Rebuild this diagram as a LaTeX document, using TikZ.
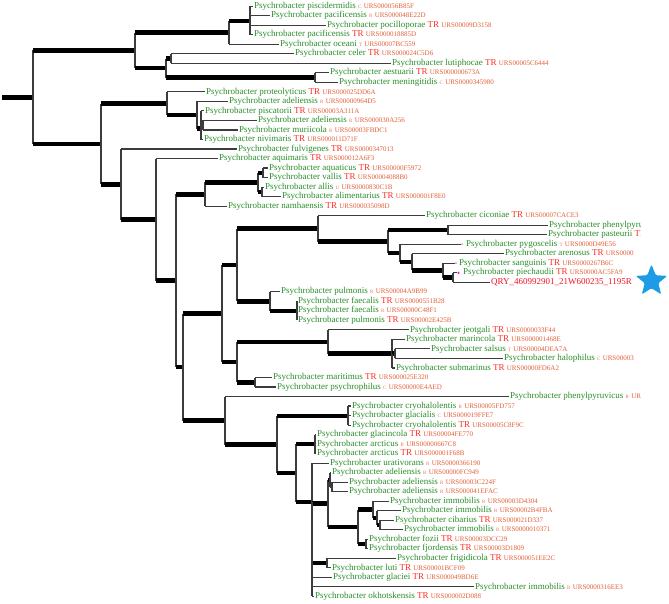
\documentclass[tikz,border=0pt]{standalone}
\usepackage{fontspec}
\setmainfont{Liberation Serif}
\usetikzlibrary{shapes.geometric}
\definecolor{nameg}{RGB}{40,140,40}
\definecolor{trred}{RGB}{255,45,35}
\definecolor{ltpink}{RGB}{240,110,100}
\definecolor{idor}{RGB}{225,95,55}
\definecolor{qryred}{RGB}{240,20,40}
\definecolor{starblue}{RGB}{30,155,230}
\definecolor{lng}{RGB}{60,60,60}
\definecolor{magdot}{RGB}{230,30,200}
\newcommand\spn[1]{\textcolor{nameg}{Psychrobacter #1}}
\newcommand\trg{\textcolor{trred}{TR}}
\newcommand\ltg[1]{\textcolor{ltpink}{\fontsize{5}{6}\selectfont #1}}
\newcommand\rid[1]{\textcolor{idor}{\fontsize{7}{8}\selectfont #1}}
\newcommand\lfn[6]{\node[lbl] (#1) at (#2,#3) {\spn{#4} #5 \rid{#6}};}
\newcommand\brk[3]{\draw[vln] (#2) -- (#2 |- #3); \draw[#1] (#2 |- #3) -- (#3);}
\tikzset{
  lbl/.style={anchor=west, inner sep=1pt, text height=6.3pt, text depth=2pt, font=\fontsize{9}{10}\selectfont},
  thk/.style={line width=4.6pt, black},
  thn/.style={line width=1.1pt, lng},
  vln/.style={line width=1.1pt, lng},
  dotn/.style={circle, inner sep=0pt, minimum size=2.4pt, draw=none}
}
\begin{document}
\begin{tikzpicture}[x=1pt,y=-1pt]
\useasboundingbox (0,0) rectangle (669,603);
\begin{scope}
\clip (0,0) rectangle (640,603);
% leaves
\lfn{l1}{253}{6.2}{piscidermidis}{\ltg{C}}{URS000056B85F}
\lfn{l2}{270}{15.7}{pacificensis}{\ltg{R}}{URS000048E22D}
\lfn{l3}{326}{25.2}{pocilloporae}{\trg}{URS00009D3158}
\lfn{l4}{253}{34.8}{pacificensis}{\trg}{URS000018885D}
\lfn{l5}{279}{44.3}{oceani}{\ltg{T}}{URS00007BC559}
\lfn{l6}{294}{53.8}{celer}{\trg}{URS000024C5D6}
\lfn{l7}{391}{63.3}{lutiphocae}{\trg}{URS00005C6444}
\lfn{l8}{329}{72.8}{aestuarii}{\trg}{URS000000673A}
\lfn{l9}{338}{82.4}{meningitidis}{\ltg{C}}{URS0000345980}
\lfn{l10}{205}{91.9}{proteolyticus}{\trg}{URS000025DD6A}
\lfn{l11}{228}{101.4}{adeliensis}{\ltg{R}}{URS00000964D5}
\lfn{l12}{204}{110.9}{piscatorii}{\trg}{URS00003A311A}
\lfn{l13}{257}{120.4}{adeliensis}{\ltg{R}}{URS000030A256}
\lfn{l14}{238}{130.0}{muriicola}{\ltg{R}}{URS00003FBDC1}
\lfn{l15}{203}{139.5}{nivimaris}{\trg}{URS000011D71F}
\lfn{l16}{237}{149.0}{fulvigenes}{\trg}{URS0000347013}
\lfn{l17}{218}{158.5}{aquimaris}{\trg}{URS000012A6F3}
\lfn{l18}{268}{168.0}{aquaticus}{\trg}{URS00000F5972}
\lfn{l19}{268}{177.6}{vallis}{\trg}{URS00004088B0}
\lfn{l20}{264}{187.1}{allis}{\ltg{U}}{URS0000830C1B}
\lfn{l21}{281}{196.6}{alimentarius}{\trg}{URS000001F8E0}
\lfn{l22}{227}{206.1}{namhaensis}{\trg}{URS000035098D}
\lfn{l23}{425}{215.6}{ciconiae}{\trg}{URS00007CACE3}
\node[lbl] (l24) at (548,225.2) {\spn{phenylpyruvicus}};
\node[lbl] (l25) at (547,234.7) {\spn{pasteurii} \trg};
\node[dotn, fill=ltpink!60] (p26) at (462,244.2) {};
\lfn{l26}{465}{244.2}{pygoscelis}{\ltg{T}}{URS0000D49E56}
\lfn{l27}{504}{253.7}{arenosus}{\trg}{URS0000}
\node[dotn, fill=magdot!50] (p28) at (456,263.2) {};
\lfn{l28}{458}{263.2}{sanguinis}{\trg}{URS0000267B6C}
\node[dotn, fill=magdot] (p29) at (458.5,272.8) {};
\lfn{l29}{462}{272.8}{piechaudii}{\trg}{URS0000AC5FA9}
\node[lbl] (l30) at (490,282.3) {\textcolor{qryred}{QRY\_460992901\_21W600235\_1195R}};
\lfn{l31}{280}{291.8}{pulmonis}{\ltg{R}}{URS00004A9B99}
\lfn{l32}{297}{301.3}{faecalis}{\trg}{URS0000551B28}
\lfn{l33}{297}{310.8}{faecalis}{\ltg{R}}{URS00000C48F1}
\lfn{l34}{297}{320.4}{pulmonis}{\trg}{URS00002E425B}
\lfn{l35}{409}{329.9}{jeotgali}{\trg}{URS0000033F44}
\lfn{l36}{405}{339.4}{marincola}{\trg}{URS000001468E}
\lfn{l37}{430}{348.9}{salsus}{\ltg{T}}{URS00004DEA7A}
\lfn{l38}{503}{358.4}{halophilus}{\ltg{C}}{URS00003}
\lfn{l39}{395}{368.0}{submarinus}{\trg}{URS00000FD6A2}
\lfn{l40}{272}{377.5}{maritimus}{\trg}{URS000025E320}
\lfn{l41}{276}{387.0}{psychrophilus}{\ltg{C}}{URS00000E4AED}
\lfn{l42}{509}{396.5}{phenylpyruvicus}{\ltg{R}}{UR}
\lfn{l43}{351}{406.0}{cryohalolentis}{\ltg{R}}{URS00005FD757}
\lfn{l44}{351}{415.6}{glacialis}{\ltg{C}}{URS000019FFE7}
\lfn{l45}{351}{425.1}{cryohalolentis}{\trg}{URS00005C8F9C}
\lfn{l46}{316}{434.6}{glacincola}{\trg}{URS00004FE770}
\lfn{l47}{316}{444.1}{arcticus}{\ltg{R}}{URS00000667C8}
\lfn{l48}{316}{453.6}{arcticus}{\trg}{URS000001F68B}
\lfn{l49}{329}{463.2}{urativorans}{\ltg{R}}{URS0000366190}
\lfn{l50}{331}{472.7}{adeliensis}{\ltg{R}}{URS00000FC949}
\lfn{l51}{348}{482.2}{adeliensis}{\ltg{R}}{URS00003C224F}
\lfn{l52}{348}{491.7}{adeliensis}{\ltg{R}}{URS000041EFAC}
\lfn{l53}{389}{501.2}{immobilis}{\ltg{R}}{URS00003D4304}
\lfn{l54}{401}{510.8}{immobilis}{\ltg{R}}{URS00002B4FBA}
\lfn{l55}{394}{520.3}{cibarius}{\trg}{URS000021D337}
\lfn{l56}{403}{529.8}{immobilis}{\ltg{R}}{URS0000010371}
\lfn{l57}{368}{539.3}{fozii}{\trg}{URS00003DCC29}
\lfn{l58}{368}{548.8}{fjordensis}{\trg}{URS00003D1809}
\lfn{l59}{396}{558.4}{frigidicola}{\trg}{URS000051EE2C}
\lfn{l60}{331}{567.9}{luti}{\trg}{URS00001BCF09}
\lfn{l61}{332}{577.4}{glaciei}{\trg}{URS000049BD6E}
\lfn{l62}{474}{586.9}{immobilis}{\ltg{R}}{URS0000316EE3}
\lfn{l63}{314}{596.4}{okhotskensis}{\trg}{URS000002D088}
% internal nodes
\coordinate (R0) at (2,97.2);
\coordinate (A) at (33,97.2);
\coordinate (B) at (135,50.4);
\coordinate (C) at (229,32.6);
\coordinate (D) at (250,21);
\coordinate (E) at (166,68.1);
\coordinate (F) at (171,58.6);
\coordinate (G) at (315,77.6);
\coordinate (H) at (101,143.9);
\coordinate (I) at (167,103.5);
\coordinate (J) at (197,115);
\coordinate (K) at (201,128.5);
\coordinate (L) at (203,125.2);
\coordinate (M) at (121,184.3);
\coordinate (N) at (156,219.5);
\coordinate (O) at (176,280.6);
\coordinate (P) at (205,194.2);
\coordinate (Q) at (258,182.3);
\coordinate (R) at (263,172.8);
\coordinate (S) at (262,191.9);
\coordinate (T) at (183,367);
\coordinate (U) at (222,313.5);
\coordinate (V) at (237,265);
\coordinate (W) at (318,228.6);
\coordinate (Y) at (388,241.5);
\coordinate (Z) at (448,230);
\coordinate (AA) at (400,253.1);
\coordinate (AB) at (412,262);
\coordinate (AC) at (443,270.4);
\coordinate (AD) at (453,277.6);
\coordinate (X) at (270,301.3);
\coordinate (AE) at (297,310.8);
\coordinate (AF) at (237,362);
\coordinate (AG) at (328,341.8);
\coordinate (AH) at (392,353.7);
\coordinate (AI) at (395,353.7);
\coordinate (AJ) at (255,382.3);
\coordinate (AK) at (225,420.5);
\coordinate (AL) at (277,444.5);
\coordinate (AM) at (348,416);
\coordinate (AN) at (296,473);
\coordinate (AO) at (315,444.1);
\coordinate (AP) at (312,502);
\coordinate (AQ) at (328,503.3);
\coordinate (AR) at (330,479.8);
\coordinate (AZ) at (332,487);
\coordinate (AS) at (358,526.8);
\coordinate (AT) at (373,509.5);
\coordinate (AU) at (377,517.9);
\coordinate (AV) at (380,525);
\coordinate (AW) at (366,544);
\coordinate (AX) at (327,563.1);
% branches
\draw[thk] (R0) -- (A);
\brk{thk}{A}{B} \brk{thk}{A}{H}
\brk{thk}{B}{C} \brk{thk}{B}{E}
\brk{thk}{C}{D} \brk{thn}{C}{l5.west}
\brk{thn}{D}{l1.west} \brk{thn}{D}{l2.west} \brk{thn}{D}{l3.west} \brk{thn}{D}{l4.west}
\brk{thk}{E}{F} \brk{thk}{E}{G}
\brk{thn}{F}{l6.west} \brk{thn}{F}{l7.west}
\brk{thn}{G}{l8.west} \brk{thn}{G}{l9.west}
\brk{thk}{H}{I} \brk{thk}{H}{M}
\brk{thn}{I}{l10.west} \brk{thk}{I}{J}
\brk{thn}{J}{l11.west} \brk{thk}{J}{K}
\brk{thn}{K}{l12.west} \brk{thn}{K}{L} \brk{thn}{K}{l15.west}
\brk{thn}{L}{l13.west} \brk{thn}{L}{l14.west}
\brk{thn}{M}{l16.west} \brk{thk}{M}{N}
\brk{thn}{N}{l17.west} \brk{thk}{N}{O}
\brk{thk}{O}{P} \brk{thk}{O}{T}
\brk{thk}{P}{Q} \brk{thn}{P}{l22.west}
\brk{thk}{Q}{R} \brk{thk}{Q}{S}
\brk{thn}{R}{l18.west} \brk{thn}{R}{l19.west}
\brk{thn}{S}{l20.west} \brk{thn}{S}{l21.west}
\brk{thk}{T}{U} \brk{thk}{T}{AK}
\brk{thk}{U}{V} \brk{thk}{U}{AF}
\brk{thk}{V}{W} \brk{thk}{V}{X}
\brk{thn}{W}{l23.west} \brk{thk}{W}{Y}
\brk{thk}{Y}{Z} \brk{thk}{Y}{AA}
\brk{thn}{Z}{l24.west} \brk{thn}{Z}{l25.west}
\brk{thn}{AA}{p26.west} \brk{thk}{AA}{AB}
\brk{thn}{AB}{l27.west} \brk{thk}{AB}{AC}
\brk{thn}{AC}{p28.west} \brk{thk}{AC}{AD}
\brk{thn}{AD}{p29.west} \brk{thn}{AD}{l30.west}
\brk{thn}{X}{l31.west} \brk{thk}{X}{AE}
\brk{thn}{AE}{l32.west} \brk{thn}{AE}{l33.west} \brk{thn}{AE}{l34.west}
\brk{thk}{AF}{AG} \brk{thk}{AF}{AJ}
\brk{thn}{AG}{l35.west} \brk{thk}{AG}{AH}
\brk{thn}{AH}{l36.west} \brk{thk}{AH}{AI} \brk{thn}{AH}{l39.west}
\brk{thn}{AI}{l37.west} \brk{thn}{AI}{l38.west}
\brk{thn}{AJ}{l40.west} \brk{thn}{AJ}{l41.west}
\brk{thn}{AK}{l42.west} \brk{thk}{AK}{AL}
\brk{thk}{AL}{AM} \brk{thk}{AL}{AN}
\brk{thn}{AM}{l43.west} \brk{thn}{AM}{l44.west} \brk{thn}{AM}{l45.west}
\brk{thk}{AN}{AO} \brk{thk}{AN}{AP}
\brk{thn}{AO}{l46.west} \brk{thn}{AO}{l47.west} \brk{thn}{AO}{l48.west}
\brk{thn}{AP}{l49.west} \brk{thk}{AP}{AQ} \brk{thk}{AP}{AX}
\brk{thn}{AP}{l61.west} \brk{thn}{AP}{l62.west} \brk{thn}{AP}{l63.west}
\brk{thk}{AQ}{AR} \brk{thk}{AQ}{AS}
\brk{thn}{AR}{l50.west} \brk{thn}{AR}{AZ}
\brk{thn}{AZ}{l51.west} \brk{thn}{AZ}{l52.west}
\brk{thk}{AS}{AT} \brk{thk}{AS}{AW}
\brk{thn}{AT}{l53.west} \brk{thk}{AT}{AU}
\brk{thn}{AU}{l54.west} \brk{thk}{AU}{AV}
\brk{thn}{AV}{l55.west} \brk{thn}{AV}{l56.west}
\brk{thn}{AW}{l57.west} \brk{thn}{AW}{l58.west}
\brk{thn}{AX}{l59.west} \brk{thn}{AX}{l60.west}
\end{scope}
\node[star, star points=5, star point ratio=2.3, minimum size=33pt, inner sep=0pt, fill=starblue, draw=none, rounded corners=1.2pt] (st) at (651.5,281) {};
\end{tikzpicture}
\end{document}
